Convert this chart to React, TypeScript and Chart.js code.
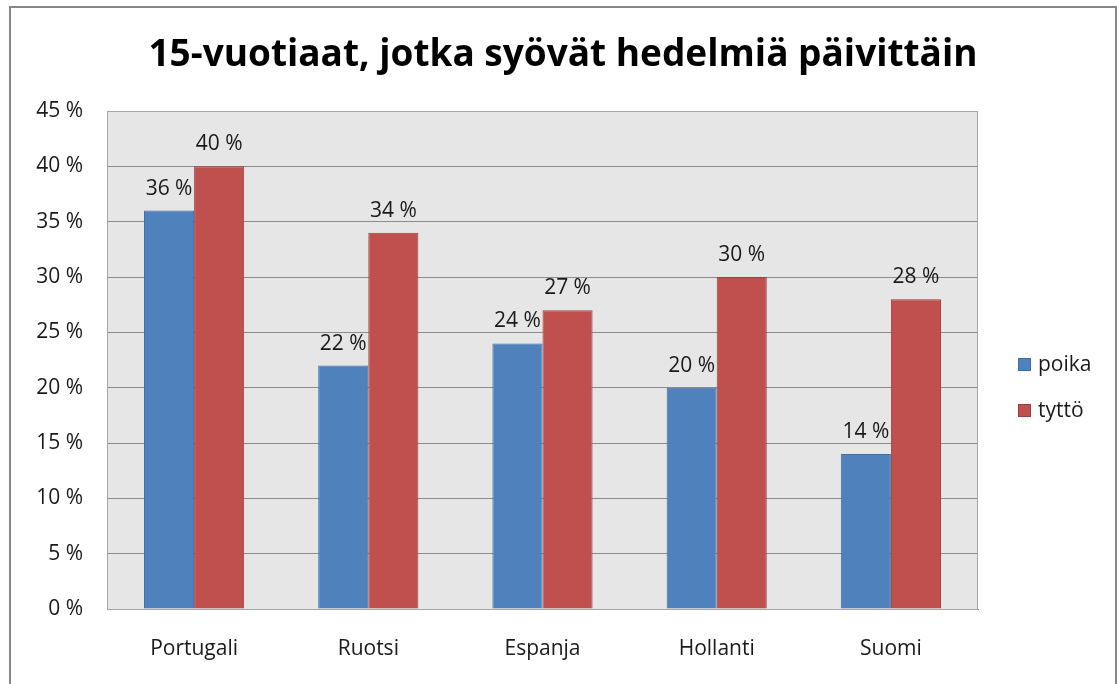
import React, { useEffect, useRef } from "react";
import { Chart, registerables } from "chart.js";

Chart.register(...registerables);

const titleText = "15-vuotiaat, jotka syövät hedelmiä päivittäin";
const categories = ["Portugali", "Ruotsi", "Espanja", "Hollanti", "Suomi"];
const seriesNames = ["poika", "tyttö"];
const poika = [36, 22, 24, 20, 14];
const tytto = [40, 34, 27, 30, 28];
const yMin = 0;
const yMax = 45;
const yStep = 5;

const FONT = "'Open Sans', Lato, sans-serif";
const fillColors = ["#4f81bd", "#c0504d"];
const borderColors = ["#3f6da3", "#9e3f3c"];

const bgPlugin = {
  id: "bgPlugin",
  beforeDraw(chart: any) {
    const { ctx, chartArea } = chart;
    ctx.save();
    ctx.fillStyle = "#ffffff";
    ctx.fillRect(0, 0, chart.width, chart.height);
    ctx.strokeStyle = "#868686";
    ctx.lineWidth = 2;
    ctx.strokeRect(10, 7, 1106, 720);
    ctx.fillStyle = "#e6e6e6";
    ctx.fillRect(chartArea.left, chartArea.top, chartArea.right - chartArea.left, chartArea.bottom - chartArea.top);
    ctx.restore();
  },
  afterDraw(chart: any) {
    const { ctx, chartArea } = chart;
    ctx.save();
    ctx.strokeStyle = "#a6a6a6";
    ctx.lineWidth = 1;
    ctx.strokeRect(Math.round(chartArea.left) + 0.5, Math.round(chartArea.top) + 0.5,
      Math.round(chartArea.right - chartArea.left) - 1, Math.round(chartArea.bottom - chartArea.top));
    ctx.restore();
  },
};

const dataLabelPlugin = {
  id: "dataLabelPlugin",
  afterDatasetsDraw(chart: any) {
    const { ctx } = chart;
    ctx.save();
    ctx.font = `21px ${FONT}`;
    ctx.fillStyle = "#1a1a1a";
    ctx.textAlign = "center";
    ctx.textBaseline = "alphabetic";
    chart.data.datasets.forEach((ds: any, di: number) => {
      const meta = chart.getDatasetMeta(di);
      meta.data.forEach((el: any, i: number) => {
        ctx.fillText(`${ds.data[i]} %`, el.x, el.y - 16);
      });
    });
    ctx.restore();
  },
};

const legendPlugin = {
  id: "customLegend",
  afterDraw(chart: any) {
    const { ctx, chartArea } = chart;
    ctx.save();
    ctx.font = `21px ${FONT}`;
    ctx.textBaseline = "middle";
    ctx.textAlign = "left";
    const x = chartArea.right + 40;
    chart.data.datasets.forEach((ds: any, di: number) => {
      const cy = chartArea.top + 254 + di * 46;
      ctx.fillStyle = ds.backgroundColor;
      ctx.fillRect(x, cy - 7, 13, 13);
      ctx.strokeStyle = ds.borderColor;
      ctx.lineWidth = 1;
      ctx.strokeRect(x + 0.5, cy - 6.5, 12, 12);
      ctx.fillStyle = "#1a1a1a";
      ctx.fillText(ds.label, x + 20, cy);
    });
    ctx.restore();
  },
};

export default function App() {
  const canvasRef = useRef<HTMLCanvasElement | null>(null);

  useEffect(() => {
    if (!canvasRef.current) return;
    const chart = new Chart(canvasRef.current, {
      type: "bar",
      data: {
        labels: categories,
        datasets: [
          {
            label: seriesNames[0],
            data: poika,
            backgroundColor: fillColors[0],
            borderColor: borderColors[0],
            borderWidth: 1,
            categoryPercentage: 0.575,
            barPercentage: 1,
          },
          {
            label: seriesNames[1],
            data: tytto,
            backgroundColor: fillColors[1],
            borderColor: borderColors[1],
            borderWidth: 1,
            categoryPercentage: 0.575,
            barPercentage: 1,
          },
        ],
      },
      options: {
        responsive: false,
        animation: false,
        devicePixelRatio: 1,
        layout: { padding: { left: 10, right: 1, top: 0, bottom: 0 } },
        plugins: {
          legend: { display: false },
          tooltip: { enabled: false },
          title: {
            display: true,
            text: titleText,
            color: "#000000",
            font: { family: FONT, size: 37, weight: "bold", lineHeight: 1.2 },
            padding: { top: 33, bottom: 33.6 },
          },
        },
        scales: {
          x: {
            grid: { display: false, drawTicks: false },
            border: { display: true, color: "#8c8c8c" },
            ticks: { color: "#1a1a1a", font: { family: FONT, size: 21 }, padding: 27, maxRotation: 0 },
            afterFit(scale: any) {
              scale.height = 75;
            },
          },
          y: {
            min: yMin,
            max: yMax,
            grid: { color: "#8c8c8c", drawTicks: false },
            border: { display: true, color: "#a6a6a6" },
            ticks: {
              stepSize: yStep,
              color: "#1a1a1a",
              font: { family: FONT, size: 21 },
              padding: 24,
              callback: (v: any) => `${v} %`,
            },
            afterFit(scale: any) {
              scale.width = 97;
            },
          },
          spacer: {
            type: "linear",
            position: "right",
            display: true,
            grid: { display: false, drawTicks: false },
            border: { display: false },
            ticks: { display: false },
            afterFit(scale: any) {
              scale.width = 138;
            },
          },
        },
      },
      plugins: [bgPlugin, dataLabelPlugin, legendPlugin],
    });
    return () => chart.destroy();
  }, []);

  return (
    <div style={{ position: "fixed", left: 0, top: 0, width: 1117, height: 684 }}>
      <canvas ref={canvasRef} width={1117} height={684} style={{ display: "block" }} />
    </div>
  );
}
